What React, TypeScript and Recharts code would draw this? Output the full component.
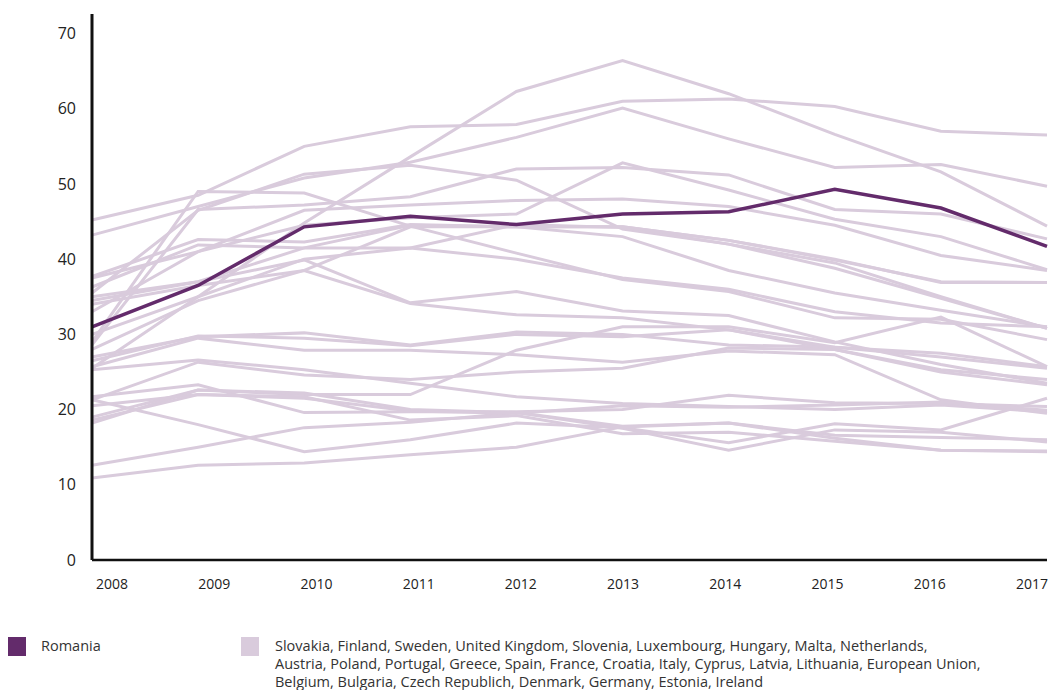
import React from 'react'
import { LineChart, Line, XAxis, YAxis } from 'recharts'

const years = ['2008', '2009', '2010', '2011', '2012', '2013', '2014', '2015', '2016', '2017']

const romania = [31.0, 36.5, 44.3, 45.7, 44.6, 46.0, 46.3, 49.3, 46.8, 41.7]

// grey background countries
const others: number[][] = [
  [45.2, 48.5, 55.0, 57.6, 57.9, 61.0, 61.3, 60.3, 57.0, 56.5],
  [25.5, 35.0, 44.8, 53.6, 62.3, 66.4, 62.0, 56.6, 51.6, 44.4],
  [43.2, 47.0, 50.8, 52.9, 56.2, 60.1, 56.0, 52.2, 52.6, 49.7],
  [29.0, 49.0, 48.8, 44.4, 40.8, 37.3, 35.7, 32.2, 32.0, 29.3],
  [28.6, 46.6, 47.2, 48.3, 52.0, 52.2, 51.2, 46.6, 46.0, 42.7],
  [37.5, 41.0, 44.5, 45.5, 46.0, 52.8, 49.2, 45.3, 43.0, 38.6],
  [34.5, 37.0, 41.5, 44.5, 44.3, 44.3, 42.5, 39.9, 37.0, 36.9],
  [37.7, 42.6, 42.3, 44.6, 44.3, 43.0, 38.5, 35.5, 33.2, 31.0],
  [35.5, 46.5, 51.3, 52.5, 50.5, 44.0, 42.0, 39.5, 35.0, 30.8],
  [35.0, 37.0, 39.9, 34.2, 35.7, 33.1, 32.5, 29.0, 26.0, 23.5],
  [34.0, 36.5, 38.5, 34.1, 32.6, 32.2, 30.6, 28.0, 25.3, 24.0],
  [27.0, 29.7, 30.2, 28.6, 30.3, 30.0, 28.6, 28.3, 27.5, 25.7],
  [25.7, 29.5, 27.9, 27.9, 27.3, 26.3, 27.8, 27.3, 21.3, 19.5],
  [25.3, 26.6, 25.3, 23.5, 21.7, 20.8, 20.4, 20.0, 20.6, 19.7],
  [21.3, 26.3, 24.6, 24.0, 25.0, 25.5, 28.2, 28.0, 25.0, 23.3],
  [21.7, 23.3, 19.6, 19.7, 19.7, 20.0, 21.9, 20.9, 20.8, 20.4],
  [21.3, 18.0, 14.4, 16.0, 18.2, 17.6, 15.6, 18.1, 17.3, 21.5],
  [19.0, 22.6, 22.0, 22.0, 27.9, 31.0, 31.0, 28.9, 32.3, 25.7],
  [18.2, 22.6, 22.2, 20.0, 19.6, 17.8, 18.2, 16.6, 16.3, 16.0],
  [12.6, 15.0, 17.6, 18.3, 19.6, 17.5, 14.6, 17.3, 17.0, 15.7],
  [10.9, 12.6, 12.9, 14.0, 15.0, 17.7, 18.2, 16.2, 14.6, 14.4],
  [36.3, 41.9, 41.5, 41.5, 44.6, 44.2, 42.0, 38.8, 34.8, 30.8],
  [30.0, 35.0, 40.0, 41.5, 40.0, 37.5, 36.0, 33.0, 31.5, 31.0],
  [26.5, 29.8, 29.5, 28.5, 30.0, 29.7, 30.6, 28.3, 27.0, 25.5],
  [20.5, 22.0, 21.5, 19.8, 19.5, 20.5, 20.3, 20.6, 21.0, 19.9],
  [18.6, 22.0, 21.7, 18.6, 19.2, 16.8, 17.0, 15.8, 14.6, 14.5],
  [28.0, 34.5, 38.5, 44.3, 44.3, 44.3, 42.5, 40.0, 36.9, 36.9],
  [33.0, 41.0, 46.5, 47.2, 47.8, 48.0, 47.0, 44.5, 40.5, 38.5],
]

const yTicks = [0, 10, 20, 30, 40, 50, 60, 70]

const data = years.map((year, i) => {
  const row: Record<string, number | string> = { year, romania: romania[i] }
  others.forEach((s, k) => {
    row['c' + k] = s[i]
  })
  return row
})

const font = '"Open Sans", sans-serif'

export default function App() {
  return (
    <div style={{ position: 'absolute', left: 0, top: 0, width: 1049, height: 690, background: '#fff', fontFamily: font }}>
      <LineChart width={1049} height={600} data={data} margin={{ top: 14, right: 2, left: 0, bottom: 0 }}>
        <XAxis xAxisId="d" dataKey="year" hide height={0} />
        <XAxis
          xAxisId="l"
          dataKey="year"
          padding={{ left: 20, right: 15 }}
          stroke="#111"
          strokeWidth={2.5}
          tickLine={false}
          tickSize={0}
          tickMargin={19}
          height={40}
          tick={{ fill: '#222', fontSize: 14, fontFamily: font }}
        />
        <YAxis
          domain={[0, 72.6]}
          ticks={yTicks}
          width={92}
          stroke="#111"
          strokeWidth={3}
          tickLine={false}
          tickSize={0}
          tickMargin={16}
          tick={{ fill: '#222', fontSize: 16, fontFamily: font }}
        />
        {others.map((_, k) => (
          <Line
            key={k}
            xAxisId="d"
            dataKey={'c' + k}
            stroke="#d9cbdc"
            strokeWidth={3}
            dot={false}
            isAnimationActive={false}
          />
        ))}
        <Line xAxisId="d" dataKey="romania" stroke="#632b6b" strokeWidth={3.5} dot={false} isAnimationActive={false} />
      </LineChart>
      <div style={{ position: 'absolute', left: 8, top: 637, width: 18, height: 19, background: '#632b6b' }} />
      <div style={{ position: 'absolute', left: 41, top: 637, fontSize: 14.5, color: '#333', lineHeight: '18px' }}>Romania</div>
      <div style={{ position: 'absolute', left: 241, top: 637, width: 18, height: 19, background: '#d9cbdc' }} />
      <div style={{ position: 'absolute', left: 275, top: 637, fontSize: 14.5, color: '#333', lineHeight: '18px', whiteSpace: 'nowrap' }}>
        Slovakia, Finland, Sweden, United Kingdom, Slovenia, Luxembourg, Hungary, Malta, Netherlands,
        <br />
        Austria, Poland, Portugal, Greece, Spain, France, Croatia, Italy, Cyprus, Latvia, Lithuania, European Union,
        <br />
        Belgium, Bulgaria, Czech Republich, Denmark, Germany, Estonia, Ireland
      </div>
    </div>
  )
}
